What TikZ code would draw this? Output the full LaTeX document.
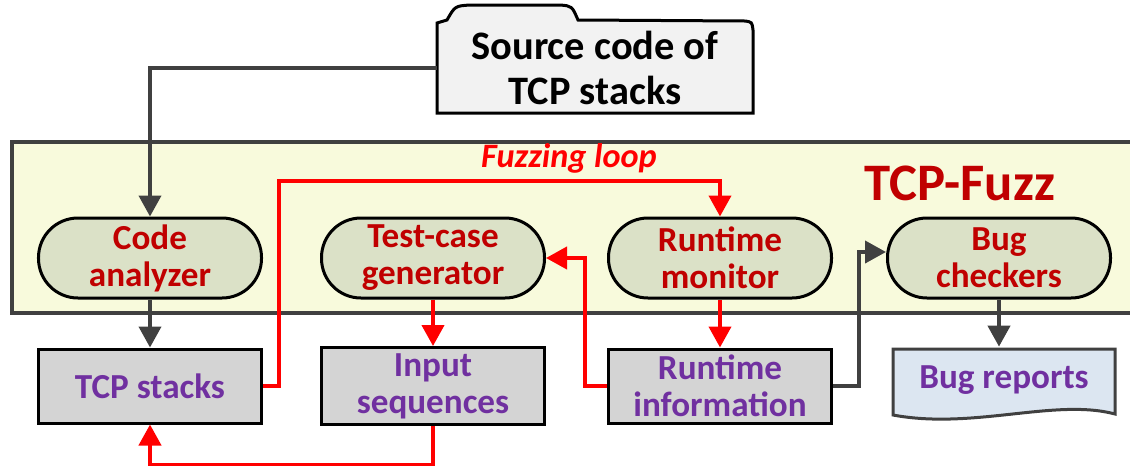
\documentclass[tikz,border=0pt]{standalone}
\usepackage{fontspec}
\setmainfont{Carlito}
\usetikzlibrary{arrows.meta, calc, positioning}
\definecolor{linegray}{HTML}{404040}
\definecolor{loopred}{HTML}{FF0000}
\definecolor{titlered}{HTML}{C00000}
\definecolor{datapurple}{HTML}{7030A0}
\definecolor{framefill}{HTML}{F8FADC}
\definecolor{modulefill}{HTML}{DBE1C7}
\definecolor{datafill}{HTML}{D4D4D4}
\definecolor{reportfill}{HTML}{DCE6F1}
\definecolor{sourcefill}{HTML}{F2F2F2}
\newcommand{\boxfont}{\fontsize{20}{21}\selectfont\bfseries}

\tikzset{
    module/.style={draw=black, line width=0.6mm, rounded corners=7.9mm, fill=modulefill,
        minimum width=44.6mm, minimum height=16mm, align=center, text=titlered, font=\boxfont},
    datafile/.style={draw=black, line width=0.6mm, fill=datafill,
        minimum width=44.6mm, minimum height=14.8mm, align=center, text=datapurple, font=\boxfont},
    grayflow/.style={draw=linegray, line width=0.8mm, -{Triangle[length=4.2mm,width=4.4mm]}},
    redflow/.style={draw=loopred, line width=0.8mm, -{Triangle[length=4.2mm,width=4.4mm]}}
}

\begin{document}
\begin{tikzpicture}[x=0.2mm, y=-0.2mm]
    \useasboundingbox (0,0) rectangle (1130,465);

    % Source code (folder shape)
    \draw[line width=0.6mm, fill=sourcefill] (437,113) -- (437,23) -- (447,20)
        .. controls (455,6) .. (470,5) -- (560,5) .. controls (572,6) .. (578,20)
        -- (745,21) .. controls (752,22) .. (753,30) -- (753,113) -- cycle;
    \node[minimum width=63.2mm, minimum height=18mm, outer sep=0pt, align=center,
        font=\fontsize{23}{26}\selectfont\bfseries] (src) at (595,68) {Source code of\\TCP stacks};

    % TCP-Fuzz frame
    \draw[line width=0.8mm, draw=linegray, fill=framefill] (12,142) rectangle (1145,313);
    \node[text=titlered, font=\fontsize{30}{32}\selectfont\bfseries] (fuzz) at (960,183) {TCP-Fuzz};
    \node[text=loopred, font=\fontsize{19.5}{21}\selectfont\bfseries\itshape] (looplabel) at (569,158) {Fuzzing loop};

    % Modules
    \node[module] (analyzer)  at (150,258) {Code\\analyzer};
    \node[module] (generator) at (433,258) {Test-case\\generator};
    \node[module] (monitor)   at (720,258) {Runtime\\monitor};
    \node[module] (checkers)  at (999,258) {Bug\\checkers};

    % Data
    \node[datafile] (stacks) at (150,386) {TCP stacks};
    \node[datafile] (inputs) at (433,386) {Input\\sequences};
    \node[datafile] (info)   at (720,386) {Runtime\\information};

    % Bug reports (document shape)
    \draw[line width=0.6mm, draw=linegray, fill=reportfill] (893,349) -- (1115,349) -- (1115,414)
        .. controls (1055,398) and (973,430) .. (893,415) -- cycle;
    \node[minimum width=44.4mm, minimum height=13.2mm, text=datapurple, font=\boxfont] (reports) at (1004,380) {Bug reports};

    % Connectors
    \draw[grayflow] (src.west) -| (analyzer.north);
    \draw[grayflow] (analyzer.south) -- (stacks.north);
    \draw[redflow] (stacks.east) -- ++(16,0) |- ($(monitor.north)+(0,-36)$) -- (monitor.north);
    \draw[redflow] (monitor.south) -- (info.north);
    \draw[redflow] (info.west) -- ++(-22,0) |- (generator.east);
    \draw[redflow] (generator.south) -- (inputs.north);
    \draw[redflow] (inputs.south) -- ++(0,39) -| (stacks.south);
    \draw[grayflow] (info.east) -- ++(26,0) |- ($(checkers.west)+(0,-6)$);
    \draw[grayflow] (checkers.south) -- (checkers.south |- reports.north);
\end{tikzpicture}
\end{document}
